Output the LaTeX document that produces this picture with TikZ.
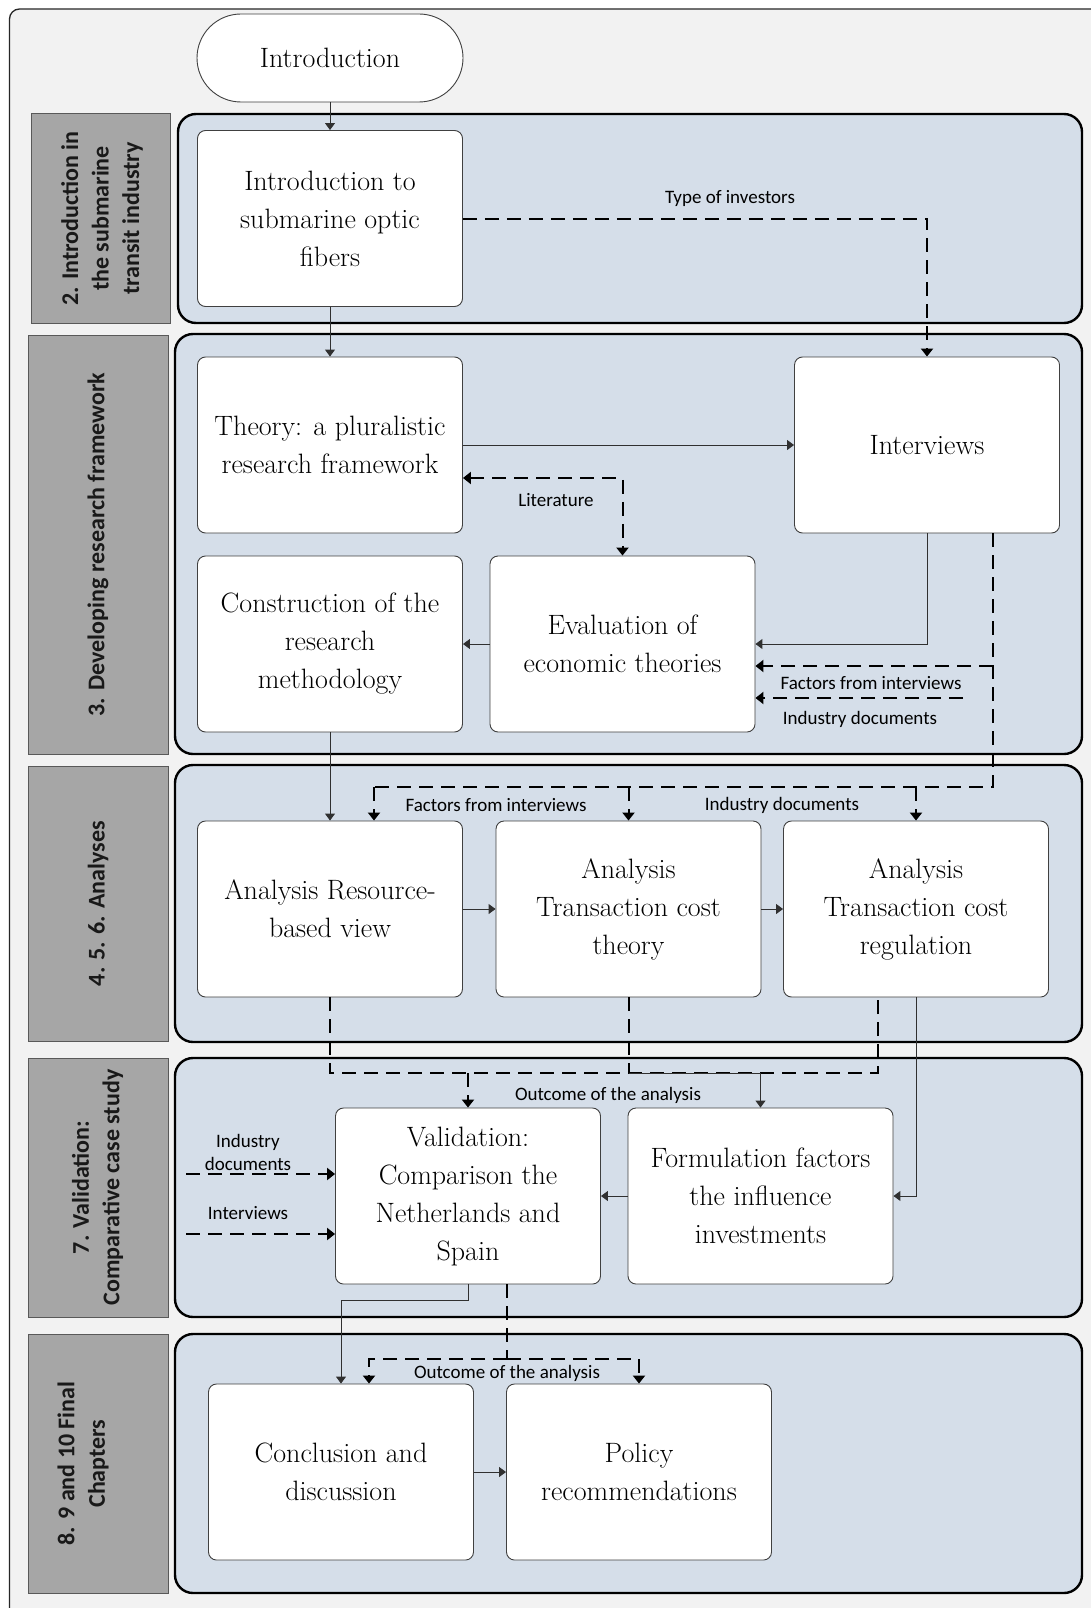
\documentclass[tikz,border=0pt]{standalone}
\usepackage{fontspec}
\newfontfamily\lblfont{Carlito}
\usetikzlibrary{arrows.meta,calc}

\definecolor{framebg}{HTML}{F2F2F2}
\definecolor{panelbg}{HTML}{D5DEE9}
\definecolor{secbg}{HTML}{A6A6A6}
\definecolor{secline}{HTML}{595959}
\definecolor{boxline}{HTML}{404040}
\definecolor{wire}{HTML}{303030}

\tikzset{
  panel/.style={draw=black, line width=2.4pt, fill=panelbg, rounded corners=18pt},
  secbox/.style={draw=secline, line width=1pt, fill=secbg},
  sectext/.style={rotate=90, align=center, inner sep=0pt, text=black!90,
    font=\lblfont\bfseries\fontsize{24}{30.5}\selectfont},
  stepbox/.style={draw=boxline, line width=0.9pt, fill=white, rounded corners=8pt,
    minimum width=265pt, minimum height=176pt, inner sep=0pt, align=center,
    font=\fontsize{28}{38}\selectfont},
  flowlbl/.style={font=\lblfont\fontsize{19}{23}\selectfont, inner sep=0pt, align=center},
  conn/.style={draw=wire, line width=1pt, -{Triangle[length=7pt,width=10pt]}},
  dline/.style={draw=black, line width=2pt, dash pattern=on 14pt off 8pt},
  dconn/.style={dline, -{Triangle[length=8pt,width=12pt]}},
  ddconn/.style={dline, {Triangle[length=8pt,width=12pt]}-{Triangle[length=8pt,width=12pt]}},
}

\begin{document}
\begin{tikzpicture}[x=1pt,y=-1pt]
\useasboundingbox (0,0) rectangle (1091,1608);
\fill[white] (0,0) rectangle (1091,1608);

% outer frame, running off the right and bottom edges
\begin{scope}
  \clip (0,0) rectangle (1091,1608);
  \draw[draw=black!85, line width=1.3pt, fill=framebg, rounded corners=10pt]
    (9.5,9) rectangle (1130,1650);
\end{scope}

% chapter panels
\path[panel] (178,114) rectangle (1082,323);
\path[panel] (175,334) rectangle (1082,754);
\path[panel] (175,765) rectangle (1082,1042);
\path[panel] (175,1058) rectangle (1082,1317);
\path[panel] (175,1334) rectangle (1082,1593);

% chapter headings
\path[secbox] (31,114) rectangle (170,323);
\path[secbox] (28,335) rectangle (168,754);
\path[secbox] (28,766) rectangle (168,1041);
\path[secbox] (28,1058) rectangle (168,1317);
\path[secbox] (28,1334) rectangle (168,1593);

\node[sectext] (t2) at (102,218.5) {2. Introduction in\\the submarine\\transit industry};
\node[sectext] (t3) at (98,544.5) {3. Developing research framework};
\node[sectext] (t4) at (98,903.5) {4. 5. 6. Analyses};
\node[sectext] (t7) at (97.5,1187.5) {7. Validation:\\Comparative case study};
\node[sectext] (t8) at (83,1463.5) {8. 9 and 10 Final\\Chapters};

% steps
\node[stepbox, minimum width=266pt, minimum height=88pt, rounded corners=44pt] (intro) at (330,58) {Introduction};
\node[stepbox] (b1) at (330,218.5) {Introduction to\\submarine optic\\fibers};
\node[stepbox] (b2) at (330,445) {Theory: a pluralistic\\research framework};
\node[stepbox] (b3) at (927,445) {Interviews};
\node[stepbox] (b4) at (330,644) {Construction of the\\research\\methodology};
\node[stepbox] (b5) at (622.5,644) {Evaluation of\\economic theories};
\node[stepbox] (b6) at (330,909) {Analysis Resource-\\based view};
\node[stepbox] (b7) at (628.5,909) {Analysis\\Transaction cost\\theory};
\node[stepbox] (b8) at (916,909) {Analysis\\Transaction cost\\regulation};
\node[stepbox] (b9) at (468,1196) {Validation:\\Comparison the\\Netherlands and\\Spain};
\node[stepbox] (b10) at (760.5,1196) {Formulation factors\\the influence\\investments};
\node[stepbox] (b11) at (341,1472) {Conclusion and\\discussion};
\node[stepbox] (b12) at (639,1472) {Policy\\recommendations};

% connector labels
\node[flowlbl] (lbinv) at (730,198) {Type of investors};
\node[flowlbl] (lblit) at (556,500) {Literature};
\node[flowlbl] (lbfac1) at (871,683) {Factors from interviews};
\node[flowlbl] (lbind1) at (860,719) {Industry documents};
\node[flowlbl] (lbfac2) at (496,805) {Factors from interviews};
\node[flowlbl] (lbind2) at (782,805) {Industry documents};
\node[flowlbl] (lbout1) at (608,1095) {Outcome of the analysis};
\node[flowlbl] (lbind3) at (248,1152.5) {Industry\\documents};
\node[flowlbl] (lbint) at (248,1213) {Interviews};
\node[flowlbl] (lbout2) at (507,1373) {Outcome of the analysis};

% bend and branch points
\coordinate (litc) at (622.5,478);
\coordinate (fx) at (993,787);
\coordinate (fxl) at (374,787);
\coordinate (facin) at (993,666);
\coordinate (indin) at (963,698);
\coordinate (obr) at (877.5,1073);
\coordinate (indsrc) at (186,1174);
\coordinate (intsrc) at (186,1234);
\coordinate (vb) at (468,1300);
\coordinate (db) at (507,1359);
\coordinate (dbl) at (369,1359);

% chapter 2 and 3
\draw[conn] (intro) -- (b1);
\draw[conn] (b1) -- (b2);
\draw[dconn] (b1.east) -| (b3.north);
\draw[conn] (b2) -- (b3);
\draw[ddconn] (b2.east |- litc) -- (litc) -- (b5.north);
\draw[conn] (b3.south) |- (b5.east);
\draw[conn] (b5) -- (b4);
\draw[dline] (b3.south -| fx) -- (fx) -- (fxl);
\draw[dconn] (facin) -- (facin -| b5.east);
\draw[dconn] (indin) -- (indin -| b5.east);

% chapters 4-6
\draw[conn] (b4) -- (b6);
\draw[dconn] (fxl) -- (fxl |- b6.north);
\draw[dconn] (fxl -| b7.north) -- (b7.north);
\draw[dconn] (fxl -| b8.north) -- (b8.north);
\draw[conn] (b6) -- (b7);
\draw[conn] (b7) -- (b8);

% chapter 7
\draw[dline] (b6.south) -- (b6.south |- obr) -- (obr) -- (obr |- b8.south);
\draw[dline] (b7.south) -- (b7.south |- obr);
\draw[dconn] (b9.north |- obr) -- (b9.north);
\draw[conn] (b7.south |- obr) -| (b10.north);
\draw[conn] (b8.south) |- (b10.east);
\draw[conn] (b10) -- (b9);
\draw[dconn] (indsrc) -- (indsrc -| b9.west);
\draw[dconn] (intsrc) -- (intsrc -| b9.west);

% chapters 8-10
\draw[conn] (b9.south) -- (vb) -| (b11.north);
\draw[dline] (db |- b9.south) -- (db);
\draw[dconn] (db) -- (dbl) -- (dbl |- b11.north);
\draw[dconn] (db) -- (db -| b12.north) -- (b12.north);
\draw[conn] (b11) -- (b12);
\end{tikzpicture}
\end{document}
